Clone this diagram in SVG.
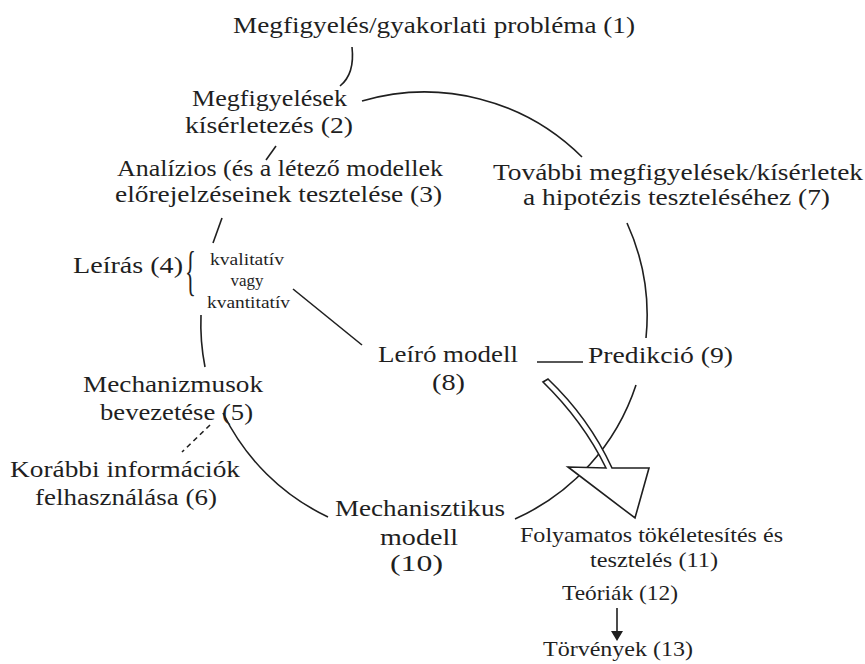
<svg xmlns="http://www.w3.org/2000/svg" width="865" height="664" viewBox="0 0 865 664" font-family="'Liberation Serif', 'DejaVu Serif', serif">
<style>
text{font-family:'Liberation Serif','DejaVu Serif',serif;fill:#1f1f1f}
.m{font-size:24px;text-anchor:middle}
.s{font-size:21px;text-anchor:middle}
.k{font-size:17px;text-anchor:middle}
.ln{fill:none;stroke:#1f1f1f;stroke-width:1.6}
.dash{fill:none;stroke:#1f1f1f;stroke-width:1.6;stroke-dasharray:5 4}
.hollow{fill:#fff;stroke:#1f1f1f;stroke-width:1.6;stroke-linejoin:miter}
</style>
<rect width="865" height="664" fill="#fff"/>
<g id="connectors">
  <path class="ln" d="M352,47 Q355,74 340,86"/>
  <path class="ln" d="M362,101 A223,223 0 0 1 582,157"/>
  <path class="ln" d="M627,223 A223,223 0 0 1 646,338"/>
  <path class="ln" d="M636,385 A223,223 0 0 1 515,519"/>
  <path class="ln" d="M328,517 A223,223 0 0 1 223,413"/>
  <path class="ln" d="M205,367 A223,223 0 0 1 201,315"/>
  <path class="ln" d="M266,160 L276,146"/>
  <path class="ln" d="M222,218 L213,243"/>
  <path class="ln" d="M293,289 L362,345"/>
  <path class="ln" d="M537,362 L583,362"/>
  <path class="dash" d="M210,425 L182,452"/>
  <path class="hollow" d="M568,467 L606,468 Q583,421 543,382 L548,379 Q589,418 612,468 L649,468 L635,518 Z"/>
  <path class="ln" d="M617,608 L617,632"/>
  <polygon points="611,631 623,631 617,641" fill="#1f1f1f"/>
</g>
<g id="n1"><text class="m" x="434" y="33" textLength="402" lengthAdjust="spacingAndGlyphs">Megfigyelés/gyakorlati probléma (1)</text></g>
<g id="n2">
  <text class="m" x="269.5" y="106" textLength="155" lengthAdjust="spacingAndGlyphs">Megfigyelések</text>
  <text class="m" x="269" y="133" textLength="168" lengthAdjust="spacingAndGlyphs">kísérletezés (2)</text>
</g>
<g id="n3">
  <text class="m" x="280" y="176" textLength="326" lengthAdjust="spacingAndGlyphs">Analízios (és a létező modellek</text>
  <text class="m" x="278.5" y="202" textLength="327" lengthAdjust="spacingAndGlyphs">előrejelzéseinek tesztelése (3)</text>
</g>
<g id="n4">
  <text x="73" y="273" font-size="24" textLength="110" lengthAdjust="spacingAndGlyphs">Leírás (4)</text>
  <text font-size="54" transform="translate(185,289) scale(0.42,1)">{</text>
  <text class="k" x="247" y="265" textLength="74" lengthAdjust="spacingAndGlyphs">kvalitatív</text>
  <text class="k" x="247" y="286" textLength="33" lengthAdjust="spacingAndGlyphs">vagy</text>
  <text class="k" x="248.5" y="308" textLength="83" lengthAdjust="spacingAndGlyphs">kvantitatív</text>
</g>
<g id="n5">
  <text class="m" x="173" y="392" textLength="180" lengthAdjust="spacingAndGlyphs">Mechanizmusok</text>
  <text class="m" x="176.5" y="420" textLength="153" lengthAdjust="spacingAndGlyphs">bevezetése (5)</text>
</g>
<g id="n6">
  <text class="m" x="125" y="477" textLength="230" lengthAdjust="spacingAndGlyphs">Korábbi információk</text>
  <text class="m" x="126" y="505" textLength="182" lengthAdjust="spacingAndGlyphs">felhasználása (6)</text>
</g>
<g id="n7">
  <text class="m" x="678" y="180" textLength="370" lengthAdjust="spacingAndGlyphs">További megfigyelések/kísérletek</text>
  <text class="m" x="676.5" y="205" textLength="307" lengthAdjust="spacingAndGlyphs">a hipotézis teszteléséhez (7)</text>
</g>
<g id="n8">
  <text class="m" x="448" y="362" textLength="140" lengthAdjust="spacingAndGlyphs">Leíró modell</text>
  <text class="m" x="448.5" y="390" textLength="33" lengthAdjust="spacingAndGlyphs">(8)</text>
</g>
<g id="n9"><text x="588" y="363" font-size="24" textLength="145" lengthAdjust="spacingAndGlyphs">Predikció (9)</text></g>
<g id="n10">
  <text class="m" x="420" y="516" textLength="170" lengthAdjust="spacingAndGlyphs">Mechanisztikus</text>
  <text class="m" x="419" y="545" textLength="78" lengthAdjust="spacingAndGlyphs">modell</text>
  <text class="m" x="416.5" y="571" textLength="53" lengthAdjust="spacingAndGlyphs">(10)</text>
</g>
<g id="n11">
  <text class="s" x="651.5" y="542" textLength="263" lengthAdjust="spacingAndGlyphs">Folyamatos tökéletesítés és</text>
  <text class="s" x="654" y="567" textLength="128" lengthAdjust="spacingAndGlyphs">tesztelés (11)</text>
</g>
<g id="n12"><text class="s" x="620" y="600" textLength="116" lengthAdjust="spacingAndGlyphs">Teóriák (12)</text></g>
<g id="n13"><text class="s" x="618" y="656" textLength="150" lengthAdjust="spacingAndGlyphs">Törvények (13)</text></g>
</svg>
